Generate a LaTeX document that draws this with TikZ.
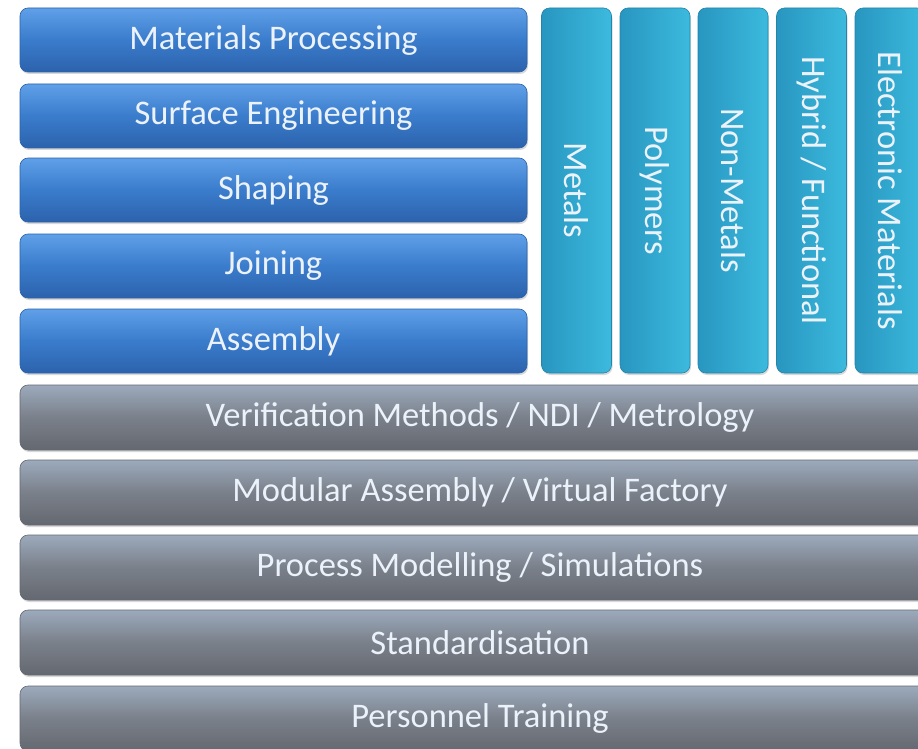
\documentclass[tikz,border=0pt]{standalone}
\usepackage{fontspec}
\setmainfont{Carlito}
\usetikzlibrary{shadows}
\definecolor{blueTop}{RGB}{96,160,232}
\definecolor{blueMid}{RGB}{58,124,204}
\definecolor{blueBot}{RGB}{44,98,172}
\definecolor{tealLight}{RGB}{60,186,222}
\definecolor{tealDark}{RGB}{40,150,192}
\definecolor{tealLine}{RGB}{36,132,170}
\definecolor{greyTop}{RGB}{156,170,188}
\definecolor{greyMid}{RGB}{122,128,138}
\definecolor{greyBot}{RGB}{100,104,112}
\definecolor{labeltext}{RGB}{236,242,250}

\begin{document}
\begin{tikzpicture}[yscale=-1
,procbox/.style={rounded corners=8pt,draw=blueBot,line width=0.6pt,top color=blueTop,bottom color=blueBot,middle color=blueMid,minimum width=507pt,minimum height=64pt,inner sep=0pt,text=labeltext,font=\fontsize{34.5}{40}\selectfont,drop shadow={opacity=0.3,shadow xshift=1pt,shadow yshift=-2pt}}
,matcol/.style={rotate=-90,rounded corners=8pt,draw=tealLine,line width=0.6pt,left color=tealDark,right color=tealLight,minimum width=365pt,minimum height=70pt,inner sep=0pt,text=labeltext,font=\fontsize{34.5}{40}\selectfont,drop shadow={opacity=0.3,shadow xshift=1pt,shadow yshift=-2pt}}
,basebar/.style={rounded corners=8pt,draw=greyBot,line width=0.6pt,top color=greyTop,bottom color=greyBot,middle color=greyMid,minimum width=920pt,minimum height=65pt,inner sep=0pt,text=labeltext,font=\fontsize{34.5}{40}\selectfont,drop shadow={opacity=0.3,shadow xshift=1pt,shadow yshift=-2pt}}
]
\useasboundingbox (0pt,0pt) rectangle (918pt,749pt);
\clip (0pt,0pt) rectangle (918pt,749pt);
\fill[white] (0pt,0pt) rectangle (918pt,749pt);
% process boxes
\node[procbox] (matproc) at (273.5pt,40pt) {Materials Processing};
\node[procbox] (surfeng) at (273.5pt,116pt) {Surface Engineering};
\node[procbox] (shaping) at (273.5pt,190pt) {Shaping};
\node[procbox] (joining) at (273.5pt,266pt) {Joining};
\node[procbox] (assembly) at (273.5pt,341pt) {Assembly};
% material columns
\node[matcol] (metals) at (576.5pt,190.5pt) {Metals};
\node[matcol] (polymers) at (655pt,190.5pt) {Polymers};
\node[matcol] (nonmetals) at (733pt,190.5pt) {Non-Metals};
\node[matcol] (hybrid) at (811.5pt,190.5pt) {Hybrid / Functional};
\node[matcol] (electronic) at (890pt,190.5pt) {Electronic Materials};
% cross-cutting layers
\node[basebar] (verif) at (480pt,417.5pt) {Verification Methods / NDI / Metrology};
\node[basebar] (modular) at (480pt,492.5pt) {Modular Assembly / Virtual Factory};
\node[basebar] (procmod) at (480pt,567.5pt) {Process Modelling / Simulations};
\node[basebar] (standard) at (480pt,642.5pt) {Standardisation};
\node[basebar] (training) at (480pt,718.5pt) {Personnel Training};
\end{tikzpicture}
\end{document}
